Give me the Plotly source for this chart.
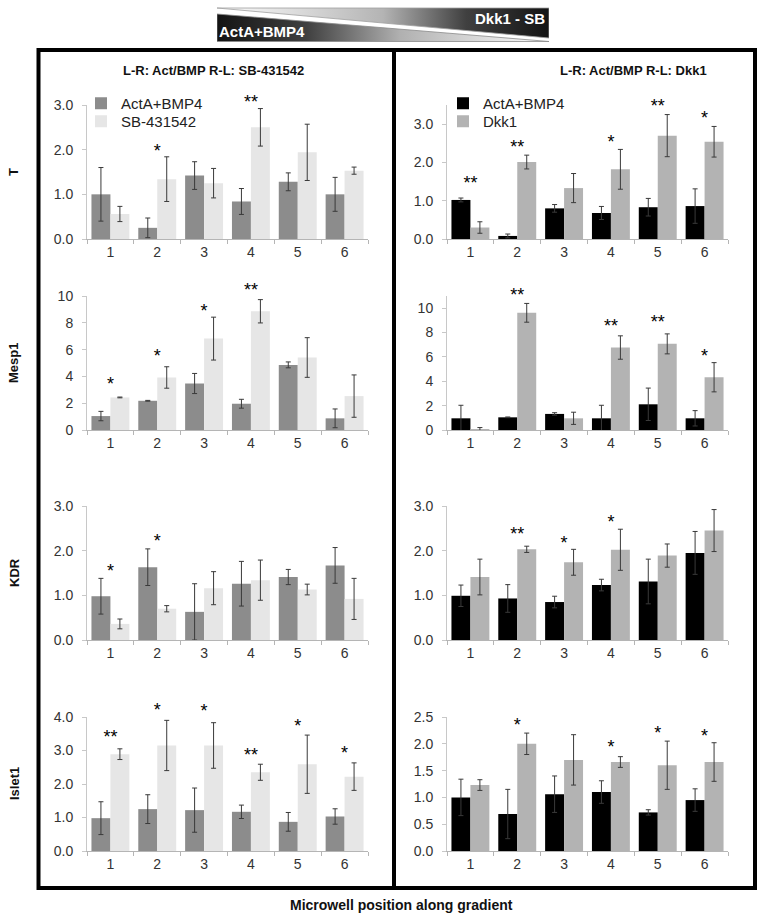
import base64
import plotly.graph_objects as go

W, H = 762, 921

positions = ["1", "2", "3", "4", "5", "6"]

# ---------------- Left column: ActA+BMP4 vs SB-431542 ----------------
T_left_act = [1.00, 0.25, 1.42, 0.84, 1.28, 1.00]
T_left_act_err = [0.60, 0.22, 0.31, 0.29, 0.20, 0.38]
T_left_sb = [0.56, 1.34, 1.25, 2.50, 1.94, 1.53]
T_left_sb_err = [0.17, 0.50, 0.33, 0.42, 0.63, 0.08]
T_left_stars = ["", "*", "", "**", "", ""]
T_left_star_y = [None, 2.03, None, 3.13, None, None]

Mesp1_left_act = [1.04, 2.18, 3.47, 1.96, 4.86, 0.87]
Mesp1_left_act_err = [0.35, 0.03, 0.75, 0.33, 0.22, 0.70]
Mesp1_left_sb = [2.43, 3.92, 6.82, 8.86, 5.41, 2.53]
Mesp1_left_sb_err = [0.03, 0.80, 1.60, 0.87, 1.48, 1.58]
Mesp1_left_stars = ["*", "*", "*", "**", "", ""]
Mesp1_left_star_y = [3.6, 5.68, 9.1, 10.67, None, None]

KDR_left_act = [0.98, 1.63, 0.63, 1.26, 1.41, 1.67]
KDR_left_act_err = [0.40, 0.41, 0.63, 0.50, 0.17, 0.40]
KDR_left_sb = [0.36, 0.70, 1.16, 1.34, 1.13, 0.92]
KDR_left_sb_err = [0.11, 0.07, 0.37, 0.45, 0.12, 0.46]
KDR_left_stars = ["*", "*", "", "", "", ""]
KDR_left_star_y = [1.61, 2.27, None, None, None, None]

Islet1_left_act = [0.98, 1.25, 1.22, 1.17, 0.87, 1.03]
Islet1_left_act_err = [0.49, 0.43, 0.66, 0.20, 0.28, 0.23]
Islet1_left_sb = [2.89, 3.15, 3.15, 2.35, 2.59, 2.22]
Islet1_left_sb_err = [0.16, 0.75, 0.68, 0.24, 0.87, 0.41]
Islet1_left_stars = ["**", "*", "*", "**", "*", "*"]
Islet1_left_star_y = [3.47, 4.29, 4.25, 2.95, 3.8, 3.0]

# ---------------- Right column: ActA+BMP4 vs Dkk1 ----------------
T_right_act = [1.02, 0.08, 0.80, 0.68, 0.83, 0.86]
T_right_act_err = [0.05, 0.05, 0.10, 0.17, 0.23, 0.45]
T_right_dkk = [0.30, 2.01, 1.33, 1.82, 2.70, 2.54]
T_right_dkk_err = [0.15, 0.18, 0.38, 0.52, 0.55, 0.40]
T_right_stars = ["**", "**", "", "*", "**", "*"]
T_right_star_y = [1.52, 2.48, None, 2.61, 3.53, 3.22]

Mesp1_right_act = [0.96, 1.04, 1.32, 0.96, 2.11, 0.96]
Mesp1_right_act_err = [1.07, 0.03, 0.10, 1.07, 1.33, 0.63]
Mesp1_right_dkk = [0.05, 9.62, 0.96, 6.77, 7.07, 4.33]
Mesp1_right_dkk_err = [0.15, 0.77, 0.50, 0.96, 0.82, 1.20]
Mesp1_right_stars = ["", "**", "", "**", "**", "*"]
Mesp1_right_star_y = [None, 11.26, None, 8.74, 9.07, 6.25]

KDR_right_act = [0.99, 0.93, 0.85, 1.23, 1.31, 1.95]
KDR_right_act_err = [0.24, 0.31, 0.13, 0.13, 0.50, 0.48]
KDR_right_dkk = [1.41, 2.03, 1.74, 2.02, 1.89, 2.45]
KDR_right_dkk_err = [0.40, 0.07, 0.29, 0.46, 0.26, 0.47]
KDR_right_stars = ["", "**", "*", "*", "", ""]
KDR_right_star_y = [None, 2.42, 2.23, 2.69, None, None]

Islet1_right_act = [1.00, 0.69, 1.06, 1.10, 0.72, 0.95]
Islet1_right_act_err = [0.34, 0.46, 0.34, 0.21, 0.05, 0.21]
Islet1_right_dkk = [1.23, 2.00, 1.70, 1.66, 1.60, 1.66]
Islet1_right_dkk_err = [0.10, 0.20, 0.47, 0.10, 0.45, 0.36]
Islet1_right_stars = ["", "*", "", "*", "*", "*"]
Islet1_right_star_y = [None, 2.39, None, 1.99, 2.25, 2.19]

genes = ["T", "Mesp1", "KDR", "Islet1"]
left_title = "L-R: Act/BMP R-L: SB-431542"
right_title = "L-R: Act/BMP R-L: Dkk1"
series_left = ["ActA+BMP4", "SB-431542"]
series_right = ["ActA+BMP4", "Dkk1"]
x_title = "Microwell position along gradient"
header_left = "ActA+BMP4"
header_right = "Dkk1 - SB"

left_panels = [
    (T_left_act, T_left_act_err, T_left_sb, T_left_sb_err, T_left_stars, T_left_star_y),
    (Mesp1_left_act, Mesp1_left_act_err, Mesp1_left_sb, Mesp1_left_sb_err, Mesp1_left_stars, Mesp1_left_star_y),
    (KDR_left_act, KDR_left_act_err, KDR_left_sb, KDR_left_sb_err, KDR_left_stars, KDR_left_star_y),
    (Islet1_left_act, Islet1_left_act_err, Islet1_left_sb, Islet1_left_sb_err, Islet1_left_stars, Islet1_left_star_y),
]
right_panels = [
    (T_right_act, T_right_act_err, T_right_dkk, T_right_dkk_err, T_right_stars, T_right_star_y),
    (Mesp1_right_act, Mesp1_right_act_err, Mesp1_right_dkk, Mesp1_right_dkk_err, Mesp1_right_stars, Mesp1_right_star_y),
    (KDR_right_act, KDR_right_act_err, KDR_right_dkk, KDR_right_dkk_err, KDR_right_stars, KDR_right_star_y),
    (Islet1_right_act, Islet1_right_act_err, Islet1_right_dkk, Islet1_right_dkk_err, Islet1_right_stars, Islet1_right_star_y),
]

# ---------------- styling / layout ----------------
def px(x):
    return x / W

def py(y):
    return 1 - y / H

NARROW = "Liberation Sans Narrow, Arial Narrow, Liberation Sans, Arial, sans-serif"
BOLD = "Liberation Sans, Arial, sans-serif"

left_colors = ["#8c8c8c", "#e6e6e6"]
right_colors = ["#000000", "#b3b3b3"]

left_ranges = [[0, 3], [0, 10], [0, 3], [0, 4]]
right_ranges = [[0, 3.5], [0, 11], [0, 3], [0, 2.5]]
left_dticks = [1, 2, 1, 1]
right_dticks = [1, 2, 1, 0.5]
tick_formats = [".1f", "d", ".1f", ".1f"]

zero_px = [239, 430, 640, 851]
plot_h = 134
star_ext = 1.3          # star layer: same scale, taller domain so stars above the axis top still show
star_drop = 4           # px: centre the asterisk glyph (which sits high in its text box) on its level
col_x = [(87, 368), (447, 728)]
legend_x = [81, 443]
legend_top = [87, 105]

fig = go.Figure()
layout = dict(
    template="none",
    width=W, height=H, autosize=False,
    margin=dict(l=0, r=0, t=0, b=0, pad=0, autoexpand=False),
    paper_bgcolor="white", plot_bgcolor="rgba(0,0,0,0)",
    barmode="group", bargap=0.19, bargroupgap=0.0,
    showlegend=True,
    font=dict(family=NARROW, color="#333333"),
)
annotations = []
shapes = []

def paper_text(x, y, text, size, color="#111111", family=BOLD, angle=0):
    return dict(x=px(x), y=py(y), xref="paper", yref="paper", text=text,
                xanchor="center", yanchor="middle", showarrow=False, textangle=angle,
                font=dict(family=family, size=size, color=color))

axis_idx = 0
legend_count = 0
for col, panels in enumerate([left_panels, right_panels]):
    colors = left_colors if col == 0 else right_colors
    names = series_left if col == 0 else series_right
    ranges = left_ranges if col == 0 else right_ranges
    dticks = left_dticks if col == 0 else right_dticks
    for row, (a, ae, b, be, stars, star_y) in enumerate(panels):
        axis_idx += 1
        sfx = "" if axis_idx == 1 else str(axis_idx)
        xa, ya = "x" + sfx, "y" + sfx
        ys = "y" + str(8 + axis_idx)
        for k, (vals, errs, color, name) in enumerate(
                [(a, ae, colors[0], names[0]), (b, be, colors[1], names[1])]):
            lg = None
            if row == 0:
                legend_count += 1
                lg = "legend" if legend_count == 1 else "legend%d" % legend_count
                layout[lg] = dict(
                    x=px(legend_x[col]), y=py(legend_top[k]), xanchor="left", yanchor="top",
                    bgcolor="rgba(0,0,0,0)", borderwidth=0, tracegroupgap=0,
                    font=dict(family=NARROW, size=15, color="#222222"), itemwidth=30,
                )
            fig.add_trace(go.Bar(
                x=positions, y=vals, name=name,
                marker=dict(color=color, line=dict(width=0)),
                error_y=dict(type="data", array=errs, color="#3a3a3a", thickness=1, width=2.5),
                xaxis=xa, yaxis=ya, legend=lg if lg else "legend",
                showlegend=(row == 0),
            ))
        # significance stars on an invisible y axis with identical scale but taller extent
        fig.add_trace(go.Scatter(
            x=positions, y=star_y, text=stars, mode="text",
            textposition="middle center", cliponaxis=False,
            textfont=dict(family=BOLD, size=18, color="black"),
            xaxis=xa, yaxis=ys, showlegend=False, hoverinfo="skip",
        ))
        x0, x1 = col_x[col]
        z = zero_px[row]
        layout["xaxis" + sfx] = dict(
            domain=[px(x0), px(x1)], anchor=ya, type="category",
            categoryorder="array", categoryarray=positions, automargin=False,
            showline=True, linecolor="#b5b5b5", linewidth=1,
            ticks="outside", ticklen=4, tickcolor="#b5b5b5", tickson="boundaries",
            showgrid=False, zeroline=False, fixedrange=True,
            tickfont=dict(family=NARROW, size=14, color="#333333"),
        )
        layout["yaxis" + sfx] = dict(
            domain=[py(z), py(z - plot_h)], anchor=xa, automargin=False,
            range=ranges[row], dtick=dticks[row], tick0=0, tickformat=tick_formats[row],
            showline=True, linecolor="#c8c8c8", linewidth=1,
            ticks="outside", ticklen=4, tickcolor="#c8c8c8",
            showgrid=False, zeroline=False, fixedrange=True,
            ticklabelstandoff=6,
            tickfont=dict(family=NARROW, size=14, color="#333333"),
        )
        zs = z + star_drop
        layout["yaxis" + str(8 + axis_idx)] = dict(
            domain=[py(zs), py(zs - plot_h * star_ext)], anchor=xa, automargin=False,
            range=[ranges[row][0], ranges[row][1] * star_ext],
            visible=False, fixedrange=True, showgrid=False, zeroline=False,
        )

# panel titles
annotations.append(paper_text(213, 70, "<b>%s</b>" % left_title, 13))
annotations.append(paper_text(633, 70, "<b>%s</b>" % right_title, 13))

# gene labels (row titles)
for g, z in zip(genes, zero_px):
    annotations.append(paper_text(14, z - plot_h / 2, "<b>%s</b>" % g, 13, angle=-90))

# x title
annotations.append(paper_text(401, 905, "<b>%s</b>" % x_title, 14))

# frames
for fx0, fx1 in [(38.5, 394), (394, 755)]:
    shapes.append(dict(type="rect", xref="paper", yref="paper",
                       x0=px(fx0), x1=px(fx1), y0=py(888), y1=py(50),
                       line=dict(color="black", width=4), fillcolor="rgba(0,0,0,0)"))

# gradient header (decorative wedge graphic) as an SVG image, text stays as annotations
hx0, hx1, hy0, hy1 = 217, 549, 7, 42
hw, hh = hx1 - hx0, hy1 - hy0
svg = f'''<svg xmlns="http://www.w3.org/2000/svg" width="{hw}" height="{hh}" viewBox="0 0 {hw} {hh}" preserveAspectRatio="none">
<defs>
<linearGradient id="up" x1="0" y1="0" x2="1" y2="0">
<stop offset="0" stop-color="#ffffff"/><stop offset="0.5" stop-color="#b4b4b4"/>
<stop offset="0.75" stop-color="#404040"/><stop offset="1" stop-color="#141414"/>
</linearGradient>
<linearGradient id="lo" x1="0" y1="0" x2="1" y2="0">
<stop offset="0" stop-color="#141414"/><stop offset="0.27" stop-color="#404040"/>
<stop offset="0.55" stop-color="#b0b0b0"/><stop offset="1" stop-color="#ffffff"/>
</linearGradient>
</defs>
<polygon points="0,1 {hw},1 {hw},{hh-4}" fill="url(#up)" stroke="#a0a0a0" stroke-width="0.8"/>
<polygon points="0,7 0,{hh-0.5} {hw},{hh-0.5}" fill="url(#lo)" stroke="#8a8a8a" stroke-width="0.8"/>
</svg>'''
svg_uri = "data:image/svg+xml;base64," + base64.b64encode(svg.encode()).decode()
layout["images"] = [dict(source=svg_uri, xref="paper", yref="paper",
                         x=px(hx0), y=py(hy0), sizex=hw / W, sizey=hh / H,
                         xanchor="left", yanchor="top", sizing="stretch", layer="below")]

annotations.append(paper_text(262, 31, "<b>%s</b>" % header_left, 15, color="white"))
annotations.append(paper_text(510, 18, "<b>%s</b>" % header_right, 15, color="white"))

layout["annotations"] = annotations
layout["shapes"] = shapes
fig.update_layout(**layout)

fig.write_html("out.html", config={"displayModeBar": False},
               post_script="document.body.style.margin='0';")
